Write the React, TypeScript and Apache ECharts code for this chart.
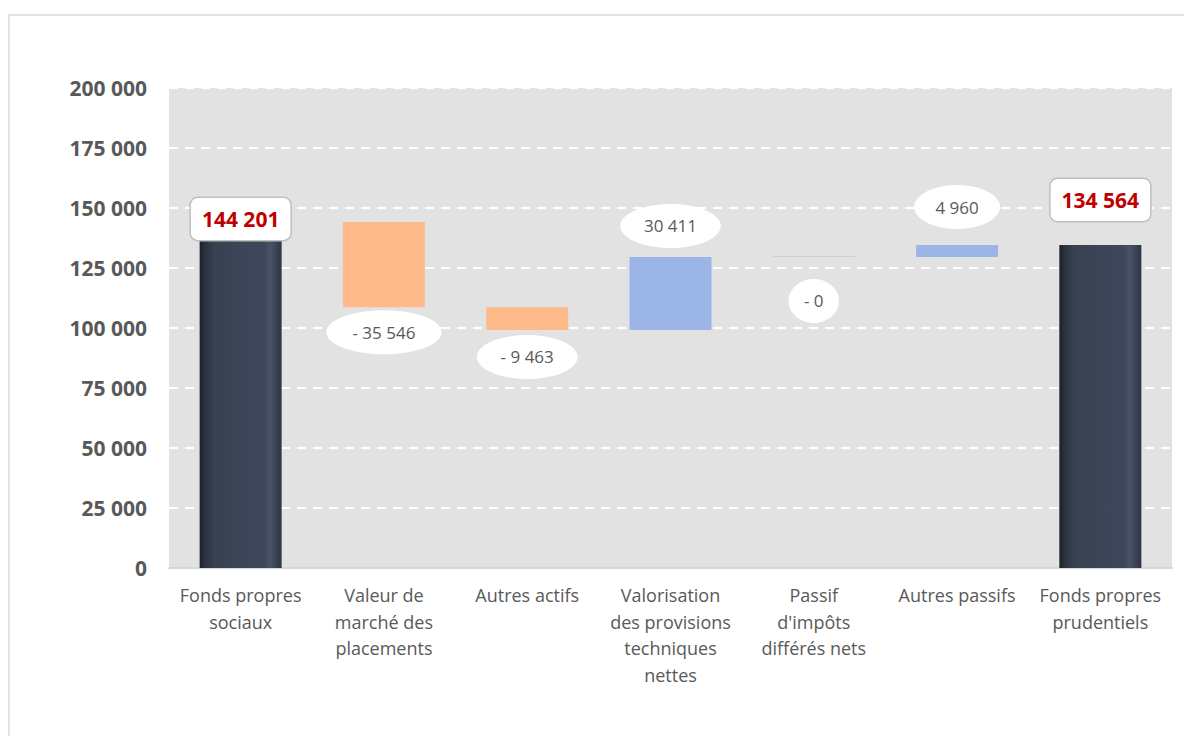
import React, { useEffect, useRef } from "react";
import * as echarts from "echarts";

const categories = [
  "Fonds propres sociaux",
  "Valeur de marché des placements",
  "Autres actifs",
  "Valorisation des provisions techniques nettes",
  "Passif d'impôts différés nets",
  "Autres passifs",
  "Fonds propres prudentiels",
];
const categoryLabels = [
  "Fonds propres\nsociaux",
  "Valeur de\nmarché des\nplacements",
  "Autres actifs",
  "Valorisation\ndes provisions\ntechniques\nnettes",
  "Passif\nd'impôts\ndifférés nets",
  "Autres passifs",
  "Fonds propres\nprudentiels",
];
const startValue = 144201;
const deltas = [-35546, -9463, 30411, -0.2, 4960];
const endValue = 134564;
const yMin = 0;
const yMax = 200000;
const yInterval = 25000;

// label placement (pixel offsets of the ellipse centres from the bar end)
const deltaLabelOffsets = [25, 27, -31, 44, -38];
const totalLabelDistances = [-18, 24];

const FONT = '"Open Sans", "Noto Sans", sans-serif';
const TEXT = "#595959";

const fmt = (n: number) =>
  Math.round(Math.abs(n))
    .toString()
    .replace(/\B(?=(\d{3})+(?!\d))/g, " ");
const fmtDelta = (n: number) => (n < 0 ? "- " : "") + fmt(n);

let measureCtx: CanvasRenderingContext2D | null = null;
const measure = (t: string, font: string) => {
  if (!measureCtx) measureCtx = document.createElement("canvas").getContext("2d");
  measureCtx!.font = font;
  return measureCtx!.measureText(t).width;
};

export default function App() {
  const ref = useRef<HTMLDivElement>(null);
  useEffect(() => {
    if (!ref.current) return;
    const chart = echarts.init(ref.current, undefined, { renderer: "svg" });

    const navy = new echarts.graphic.LinearGradient(0, 0, 1, 0, [
      { offset: 0, color: "#1b2029" },
      { offset: 0.06, color: "#2a313d" },
      { offset: 0.18, color: "#384151" },
      { offset: 0.5, color: "#3b4557" },
      { offset: 0.8, color: "#3e485a" },
      { offset: 0.86, color: "#4a5466" },
      { offset: 0.92, color: "#3c4658" },
      { offset: 1, color: "#2e3542" },
    ]);

    // waterfall geometry derived from data
    let running = startValue;
    const bases: number[] = [0];
    const heights: any[] = [];
    const anchors: number[] = [];
    heights.push({
      value: startValue,
      itemStyle: { color: navy },
      label: { show: true, distance: totalLabelDistances[0] },
    });
    deltas.forEach((d) => {
      const base = d >= 0 ? running : running + d;
      bases.push(base);
      const tiny = Math.abs(d) < 1;
      heights.push({
        value: Math.abs(d),
        itemStyle: { color: tiny ? "#cfcfcf" : d < 0 ? "#FDBB8C" : "#9BB6E6" },
      });
      anchors.push(d < 0 ? base : base + Math.abs(d));
      running += d;
    });
    bases.push(0);
    heights.push({
      value: endValue,
      itemStyle: { color: navy },
      label: { show: true, distance: totalLabelDistances[1] },
    });

    const labelData = deltas.map((d, i) => [i + 1, anchors[i], i]);

    chart.setOption({
      animation: false,
      graphic: [
        {
          type: "rect",
          shape: { x: 9, y: 15, width: 1300, height: 900 },
          style: { fill: "none", stroke: "#d9d9d9", lineWidth: 1.5 },
          silent: true,
          z: -10,
        },
      ],
      grid: {
        left: 169,
        right: 12,
        top: 88,
        bottom: 168,
        show: true,
        backgroundColor: "#E2E2E2",
        borderWidth: 0,
      },
      xAxis: {
        type: "category",
        data: categories,
        axisTick: { show: false },
        axisLine: { lineStyle: { color: "#d6d6d6", width: 2 } },
        axisLabel: {
          interval: 0,
          color: TEXT,
          fontFamily: FONT,
          fontSize: 18,
          lineHeight: 26.5,
          margin: 14,
          formatter: (_v: string, i: number) => categoryLabels[i],
        },
      },
      yAxis: {
        type: "value",
        min: yMin,
        max: yMax,
        interval: yInterval,
        axisLine: { show: false },
        axisTick: { show: false },
        axisLabel: {
          color: TEXT,
          fontFamily: FONT,
          fontSize: 21,
          fontWeight: "bold",
          margin: 22,
          formatter: (v: number) => fmt(v),
        },
        splitLine: {
          lineStyle: { color: "#ffffff", width: 2, type: [9, 7] },
        },
      },
      series: [
        {
          type: "bar",
          stack: "wf",
          data: bases,
          barWidth: 82,
          itemStyle: { color: "transparent" },
          silent: true,
        },
        {
          type: "bar",
          stack: "wf",
          data: heights,
          barWidth: 82,
          barMinHeight: 1,
          label: {
            show: false,
            position: "top",
            formatter: (p: any) => fmt(p.value),
            backgroundColor: "#ffffff",
            borderColor: "#bfbfbf",
            borderWidth: 1.5,
            borderRadius: 7,
            padding: [9, 11, 9, 11],
            color: "#C00000",
            fontFamily: FONT,
            fontSize: 21,
            fontWeight: "bold",
            lineHeight: 24,
          },
        },
        {
          type: "custom",
          coordinateSystem: "cartesian2d",
          encode: { x: 0, y: 1 },
          clip: false,
          z: 5,
          data: labelData,
          renderItem: (_params: any, api: any) => {
            const idx = api.value(2);
            const pt = api.coord([api.value(0), api.value(1)]);
            const cy = pt[1] + deltaLabelOffsets[idx];
            const text = fmtDelta(deltas[idx]);
            const font = `17px ${FONT}`;
            const w = measure(text, font);
            const rx = 0.75 * w + 10.5;
            return {
              type: "group",
              children: [
                {
                  type: "ellipse",
                  shape: { cx: pt[0], cy, rx, ry: 22 },
                  style: { fill: "#ffffff" },
                },
                {
                  type: "text",
                  style: {
                    text,
                    x: pt[0],
                    y: cy,
                    align: "center",
                    verticalAlign: "middle",
                    fontFamily: FONT,
                    fontSize: 17,
                    fill: TEXT,
                  },
                },
              ],
            };
          },
        },
      ],
    });
    return () => chart.dispose();
  }, []);
  return (
    <div
      ref={ref}
      style={{ position: "fixed", left: 0, top: 0, width: 1184, height: 736, background: "#fff" }}
    />
  );
}
